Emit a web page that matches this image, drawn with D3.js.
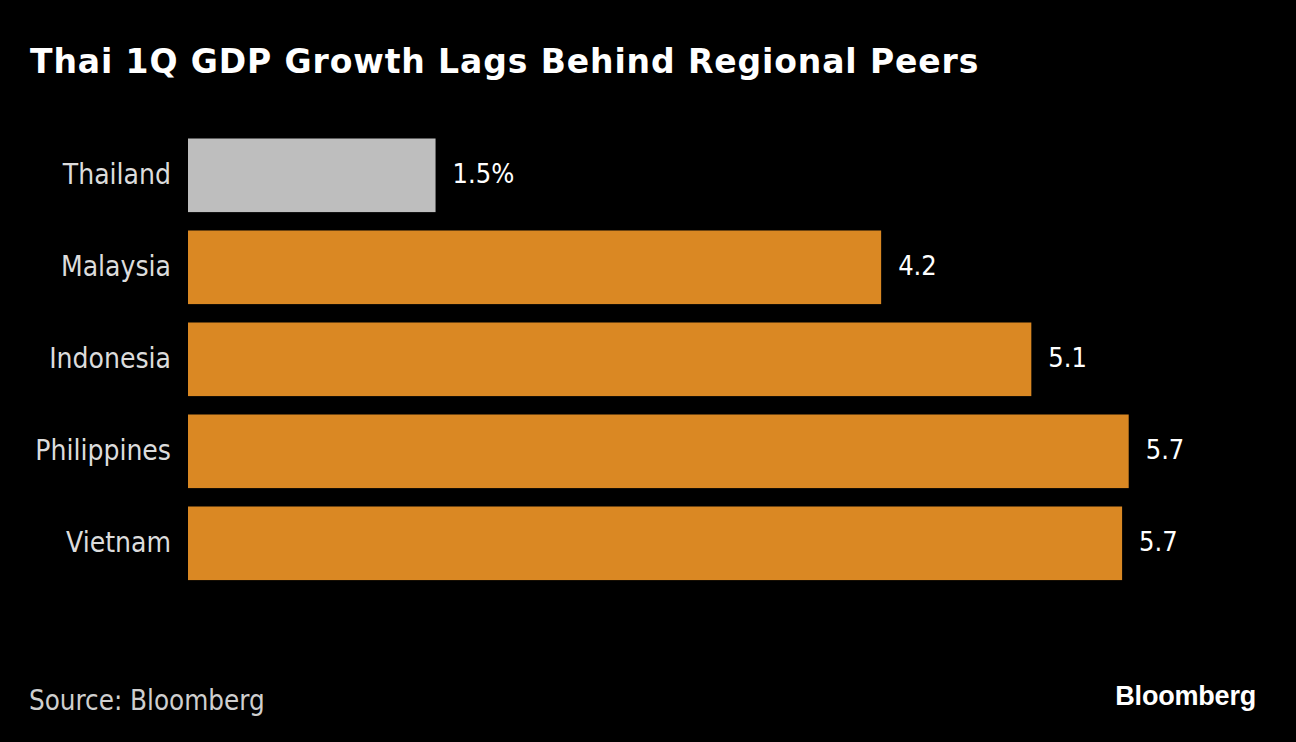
<!DOCTYPE html>
<html>
<head>
<meta charset="utf-8">
<script src="https://cdn.jsdelivr.net/npm/d3@7"></script>
<style>
  html, body { margin: 0; padding: 0; background: #000; }
  svg { display: block; }
</style>
</head>
<body>
<svg id="chart" width="1296" height="742"></svg>
<script>
const countries = ["Thailand", "Malaysia", "Indonesia", "Philippines", "Vietnam"];
const growth = [1.5, 4.2, 5.11, 5.7, 5.66];
const valueLabels = ["1.5%", "4.2", "5.1", "5.7", "5.7"];
const highlight = ["Thailand"];

const titleText = "Thai 1Q GDP Growth Lags Behind Regional Peers";
const sourceText = "Source: Bloomberg";
const logoText = "Bloomberg";

const W = 1296, H = 742;
const svg = d3.select("#chart");
svg.append("rect").attr("width", W).attr("height", H).attr("fill", "#000");

const data = countries.map((c, i) => ({ country: c, value: growth[i], label: valueLabels[i] }));

const x = d3.scaleLinear().domain([0, 5.7]).range([188, 1128.7]);
const y = d3.scaleBand().domain(countries).range([129.3, 589.3]).paddingInner(0.2).paddingOuter(0.1);

const labelFont = "'DejaVu Sans Condensed', 'DejaVu Sans', sans-serif";

// Title
svg.append("text")
  .attr("x", 30).attr("y", 73)
  .attr("fill", "#fff")
  .style("font-family", "'DejaVu Sans', sans-serif")
  .style("font-weight", "bold")
  .style("font-size", "33px")
  .style("letter-spacing", "0.9px")
  .text(titleText);

// Bars
svg.append("g").selectAll("rect").data(data).join("rect")
  .attr("x", x(0))
  .attr("y", d => y(d.country))
  .attr("width", d => x(d.value) - x(0))
  .attr("height", y.bandwidth())
  .attr("fill", d => highlight.includes(d.country) ? "#bebebe" : "#da8823");

// Category axis
const yAxis = d3.axisLeft(y).tickSize(0).tickPadding(17);
const ag = svg.append("g").attr("transform", `translate(${x(0)},0)`).call(yAxis);
ag.select(".domain").remove();
ag.selectAll("text")
  .attr("fill", "#dcdcdc")
  .attr("dy", "0.3em")
  .style("font-family", labelFont)
  .style("font-size", "28px");

// Value labels
svg.append("g").selectAll("text").data(data).join("text")
  .attr("x", d => x(d.value) + 17)
  .attr("y", d => y(d.country) + y.bandwidth() / 2)
  .attr("dy", "0.3em")
  .attr("fill", "#fff")
  .style("font-family", labelFont)
  .style("font-size", "27px")
  .text(d => d.label);

// Source
svg.append("text")
  .attr("x", 29).attr("y", 710)
  .attr("fill", "#cfcfcf")
  .style("font-family", labelFont)
  .style("font-size", "27.5px")
  .text(sourceText);

// Logo
svg.append("text")
  .attr("x", 1256).attr("y", 705)
  .attr("text-anchor", "end")
  .attr("fill", "#fff")
  .style("font-family", "'Liberation Sans', Arial, sans-serif")
  .style("font-weight", "bold")
  .style("font-size", "27px")
  .style("letter-spacing", "-0.2px")
  .text(logoText);
</script>
</body>
</html>
